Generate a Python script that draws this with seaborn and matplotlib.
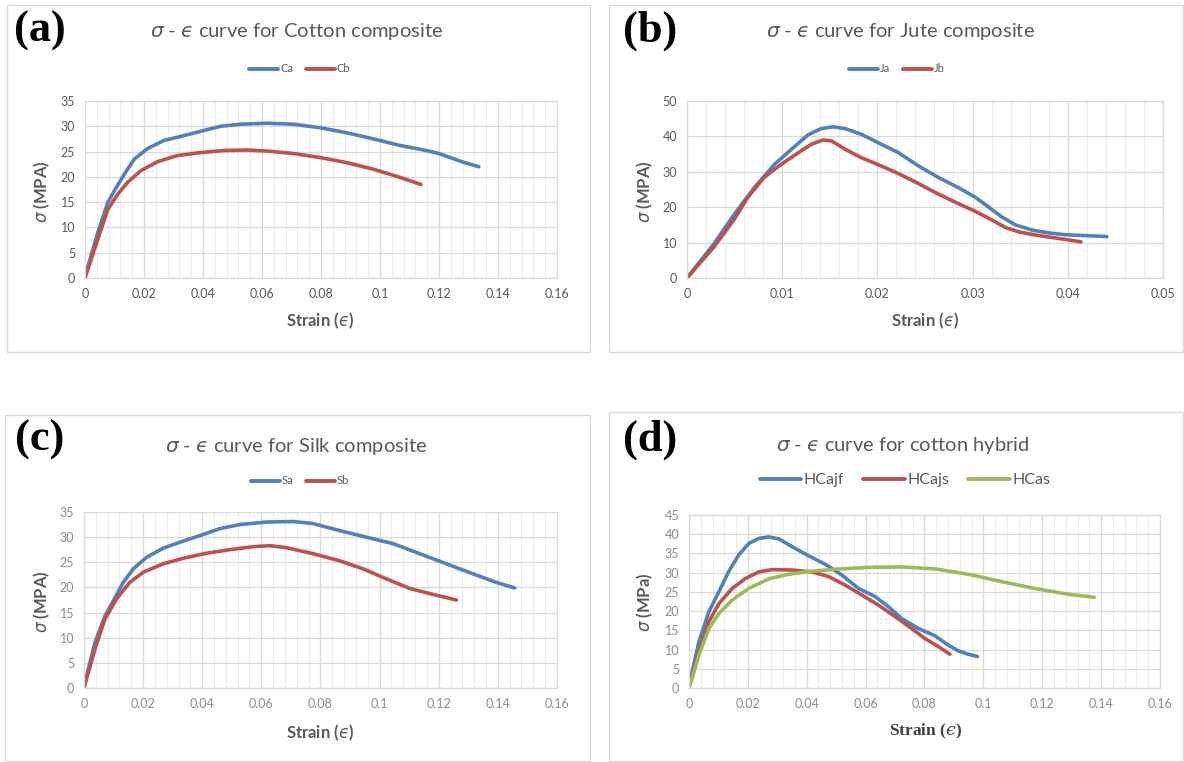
import numpy as np
import pandas as pd
import matplotlib
matplotlib.use("Agg")
import matplotlib.pyplot as plt
import seaborn as sns
from matplotlib.patches import Rectangle
from matplotlib.ticker import MultipleLocator, FuncFormatter

# ---- data (strain, stress in MPa) ----
ca_x = [0, 0.0043, 0.0077, 0.0099, 0.0133, 0.0167, 0.0212, 0.0268, 0.0325, 0.0392, 0.046, 0.0527, 0.0617,
        0.0708, 0.0798, 0.0888, 0.0978, 0.1068, 0.1158, 0.12, 0.1282, 0.1335]
ca_y = [0.3, 8.9, 14.9, 17.2, 20.5, 23.5, 25.6, 27.2, 28.0, 29.0, 30.0, 30.4, 30.6,
        30.4, 29.7, 28.7, 27.5, 26.2, 25.2, 24.6, 22.9, 22.0]
cb_x = [0, 0.0043, 0.0077, 0.011, 0.0144, 0.0189, 0.0246, 0.0313, 0.0392, 0.0471, 0.055, 0.0617, 0.0708,
        0.0798, 0.0888, 0.0978, 0.1057, 0.1139]
cb_y = [0, 7.6, 13.5, 16.5, 18.9, 21.2, 23.0, 24.2, 24.8, 25.2, 25.3, 25.1, 24.6,
        23.8, 22.8, 21.5, 20.1, 18.5]

ja_x = [0, 0.00285, 0.005, 0.0071, 0.0092, 0.011, 0.0127, 0.0141, 0.0154, 0.0166, 0.0183, 0.0201, 0.0222,
        0.0243, 0.0264, 0.0286, 0.0303, 0.0317, 0.0331, 0.0345, 0.0363, 0.0381, 0.0398, 0.0416, 0.0441]
ja_y = [0, 9.7, 18.1, 25.6, 32.1, 36.4, 40.4, 42.2, 42.7, 42.2, 40.6, 38.2, 35.4,
        31.7, 28.4, 25.4, 22.8, 20.0, 17.2, 15.0, 13.5, 12.7, 12.2, 12.0, 11.7]
jb_x = [0, 0.00285, 0.005, 0.0064, 0.0081, 0.0099, 0.0117, 0.0131, 0.0143, 0.0152, 0.0166, 0.0183, 0.0201,
        0.0222, 0.0243, 0.0264, 0.0286, 0.0303, 0.0321, 0.0335, 0.0349, 0.0367, 0.0387, 0.0414]
jb_y = [0, 8.8, 16.7, 22.8, 28.4, 32.1, 35.4, 37.8, 39.0, 38.7, 36.4, 34.0, 32.0,
        29.5, 26.7, 23.7, 20.9, 18.8, 16.3, 14.2, 13.0, 12.1, 11.3, 10.2]

sa_x = [0, 0.0037, 0.0071, 0.0099, 0.0133, 0.0167, 0.0212, 0.0268, 0.0325, 0.0392, 0.046, 0.0527, 0.0617,
        0.0708, 0.0775, 0.0865, 0.0955, 0.1046, 0.1136, 0.1226, 0.1316, 0.1395, 0.1457]
sa_y = [0.3, 9.0, 14.3, 17.3, 21.0, 23.7, 26.0, 27.8, 29.0, 30.3, 31.7, 32.5, 33.0,
        33.1, 32.7, 31.3, 30.0, 28.7, 26.7, 24.7, 22.7, 21.0, 19.9]
sb_x = [0, 0.0037, 0.0071, 0.011, 0.0155, 0.02, 0.0268, 0.0336, 0.0415, 0.0493, 0.0572, 0.0629, 0.0685,
        0.0775, 0.0865, 0.0944, 0.1023, 0.1102, 0.1181, 0.126]
sb_y = [0, 7.7, 13.7, 17.7, 21.0, 23.0, 24.7, 25.8, 26.8, 27.5, 28.1, 28.3, 27.9,
        26.7, 25.3, 23.7, 21.7, 19.8, 18.6, 17.5]

hcajf_x = [0, 0.0034, 0.0068, 0.0102, 0.0135, 0.0169, 0.0203, 0.0237, 0.0271, 0.0305, 0.035, 0.0406, 0.0463,
           0.0519, 0.0576, 0.0632, 0.0677, 0.0722, 0.0779, 0.0835, 0.088, 0.0914, 0.0948, 0.098]
hcajf_y = [0.5, 12.1, 19.9, 25.1, 30.3, 34.6, 37.6, 38.9, 39.3, 38.8, 36.8, 34.4, 32.2,
           29.4, 25.9, 23.8, 21.2, 18.1, 15.5, 13.6, 11.2, 9.7, 8.8, 8.2]
hcajs_x = [0, 0.0034, 0.0068, 0.0102, 0.0147, 0.0192, 0.0237, 0.0282, 0.035, 0.0418, 0.0474, 0.053, 0.0587,
           0.0643, 0.07, 0.0756, 0.0801, 0.0847, 0.0886]
hcajs_y = [0, 9.5, 17.3, 22.0, 25.9, 28.5, 30.2, 30.8, 30.7, 30.2, 29.0, 26.8, 24.2,
           21.6, 18.6, 15.5, 12.9, 10.8, 8.8]
hcas_x = [0, 0.0034, 0.0068, 0.0102, 0.0147, 0.0203, 0.0271, 0.0339, 0.0406, 0.0497, 0.061, 0.0722, 0.0835,
          0.0948, 0.1061, 0.1174, 0.1287, 0.1377]
hcas_y = [0, 8.6, 15.5, 19.4, 22.9, 25.9, 28.4, 29.6, 30.3, 30.9, 31.4, 31.5, 31.0,
          29.6, 27.7, 25.9, 24.4, 23.6]

BLUE = "#4F81BD"
RED = "#C0504D"
GREEN = "#9BBB59"

sns.set_theme(style="white")
plt.rcParams["font.family"] = ["Lato", "DejaVu Sans"]
plt.rcParams["mathtext.fontset"] = "dejavusans"

EPS = "$\u03f5$"


def long_df(series):
    frames = []
    for name, xs, ys in series:
        frames.append(pd.DataFrame({"strain": xs, "stress": ys, "series": name}))
    return pd.concat(frames, ignore_index=True)


fig = plt.figure(figsize=(11.84, 7.62), dpi=100)

# panel frames (pixels: x0, y0, x1, y1)
frames_px = [(7, 5, 590, 352), (609, 5, 1183, 352), (5, 415, 590, 761), (609, 412, 1183, 761)]
for x0, y0, x1, y1 in frames_px:
    fig.patches.append(Rectangle((x0 / 1184, 1 - y1 / 762), (x1 - x0) / 1184, (y1 - y0) / 762,
                                 transform=fig.transFigure, fill=False, edgecolor="#d9d9d9", lw=1.0))

panels = [
    dict(pos=[0.0718, 0.6352, 0.3986, 0.2323], tag="(a)", tagxy=(40, 31),
         title=r"$\sigma$ - " + EPS + " curve for Cotton composite", titlexy=(297, 32),
         series=[("Ca", ca_x, ca_y), ("Cb", cb_x, cb_y)], colors=[BLUE, RED],
         legxy=(300, 69), legfs=8, xmax=0.16, xmaj=0.02, ymax=35, ymaj=5,
         xlabel="Strain (" + EPS + ")", xlxy=(320, 321), ylabel=r"$\sigma$ (MPA)", ylxy=(42, 192),
         tickc="#595959", serif=False),
    dict(pos=[0.5802, 0.6352, 0.4020, 0.2323], tag="(b)", tagxy=(650, 31),
         title=r"$\sigma$ - " + EPS + " curve for Jute composite", titlexy=(900, 32),
         series=[("Ja", ja_x, ja_y), ("Jb", jb_x, jb_y)], colors=[BLUE, RED],
         legxy=(897, 69), legfs=8, xmax=0.05, xmaj=0.01, ymax=50, ymaj=10,
         xlabel="Strain (" + EPS + ")", xlxy=(925, 321), ylabel=r"$\sigma$ (MPA)", ylxy=(645, 192),
         tickc="#595959", serif=False),
    dict(pos=[0.0709, 0.0971, 0.3995, 0.2310], tag="(c)", tagxy=(40, 440),
         title=r"$\sigma$ - " + EPS + " curve for Silk composite", titlexy=(296, 447),
         series=[("Sa", sa_x, sa_y), ("Sb", sb_x, sb_y)], colors=[BLUE, RED],
         legxy=(300, 481), legfs=8, xmax=0.16, xmaj=0.02, ymax=35, ymaj=5,
         xlabel="Strain (" + EPS + ")", xlxy=(320, 733), ylabel=r"$\sigma$ (MPA)", ylxy=(42, 602),
         tickc="#8c8c8c", serif=False),
    dict(pos=[0.5819, 0.0971, 0.3978, 0.2270], tag="(d)", tagxy=(650, 440),
         title=r"$\sigma$ - " + EPS + " curve for cotton hybrid", titlexy=(903, 445),
         series=[("HCajf", hcajf_x, hcajf_y), ("HCajs", hcajs_x, hcajs_y), ("HCas", hcas_x, hcas_y)],
         colors=[BLUE, RED, GREEN],
         legxy=(905, 480), legfs=11.5, xmax=0.16, xmaj=0.02, ymax=45, ymaj=5,
         xlabel="Strain (" + EPS + ")", xlxy=(926, 731), ylabel=r"$\sigma$ (MPa)", ylxy=(645, 602),
         tickc="#8c8c8c", serif=True),
]

for p in panels:
    ax = fig.add_axes(p["pos"])
    df = long_df(p["series"])
    names = [s[0] for s in p["series"]]
    sns.lineplot(data=df, x="strain", y="stress", hue="series", hue_order=names,
                 palette=p["colors"], sort=False, estimator=None, lw=2.6, ax=ax, legend=False)
    for ln in ax.get_lines():
        ln.set_solid_joinstyle("round")
        ln.set_solid_capstyle("round")
    ax.set_xlim(0, p["xmax"])
    ax.set_ylim(0, p["ymax"])
    ax.xaxis.set_major_locator(MultipleLocator(p["xmaj"]))
    ax.xaxis.set_minor_locator(MultipleLocator(p["xmaj"] / 5))
    ax.yaxis.set_major_locator(MultipleLocator(p["ymaj"]))
    ax.xaxis.set_major_formatter(FuncFormatter(lambda v, pos: "%g" % round(v, 4)))
    ax.grid(which="major", color="#d9d9d9", lw=0.9)
    ax.grid(which="minor", axis="x", color="#ececec", lw=0.8)
    ax.set_axisbelow(True)
    for sp in ax.spines.values():
        sp.set_color("#d9d9d9")
        sp.set_linewidth(0.9)
    ax.tick_params(which="both", length=0, labelsize=9, colors=p["tickc"], pad=7)
    ax.set_xlabel("")
    ax.set_ylabel("")

    fig.text(p["tagxy"][0] / 1184, 1 - p["tagxy"][1] / 762, p["tag"], fontsize=32, fontweight="bold",
             family="Liberation Serif", ha="center", va="center", color="black")
    fig.text(p["titlexy"][0] / 1184, 1 - p["titlexy"][1] / 762, p["title"], fontsize=14.5,
             ha="center", va="center", color="#595959")
    if p["serif"]:
        fig.text(p["xlxy"][0] / 1184, 1 - p["xlxy"][1] / 762, p["xlabel"], fontsize=12.5, fontweight="bold",
                 family="Liberation Serif", math_fontfamily="dejavuserif",
                 ha="center", va="center", color="#404040")
    else:
        fig.text(p["xlxy"][0] / 1184, 1 - p["xlxy"][1] / 762, p["xlabel"], fontsize=12, fontweight="bold",
                 ha="center", va="center", color="#595959")
    fig.text(p["ylxy"][0] / 1184, 1 - p["ylxy"][1] / 762, p["ylabel"], fontsize=12, fontweight="bold",
             rotation=90, ha="center", va="center", color="#595959")

    handles = [plt.Line2D([], [], color=c, lw=2.8) for c in p["colors"]]
    ax.legend(handles, names, loc="center", ncol=len(names), frameon=False,
              bbox_to_anchor=(p["legxy"][0] / 1184, 1 - p["legxy"][1] / 762),
              bbox_transform=fig.transFigure, fontsize=p["legfs"], handlelength=2.6,
              handletextpad=0.15, columnspacing=1.2, labelcolor="#595959")

fig.savefig("out.png", dpi=100)
